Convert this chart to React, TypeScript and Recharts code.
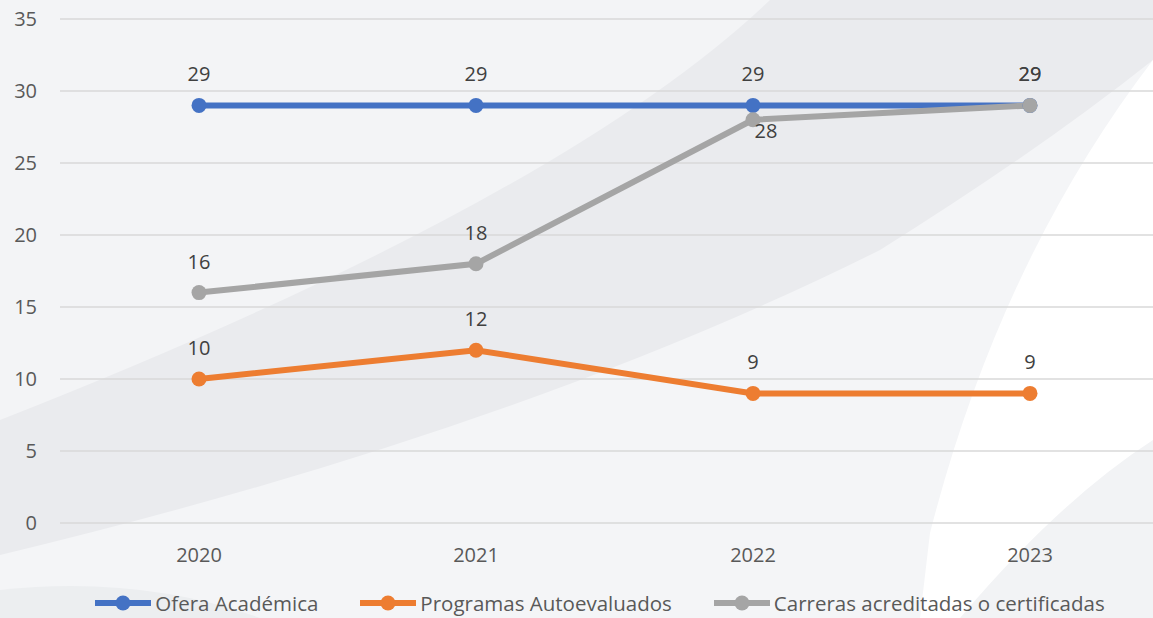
import React from 'react';
import { LineChart, Line, XAxis, YAxis, CartesianGrid, Legend, LabelList } from 'recharts';

const years = ['2020', '2021', '2022', '2023'];
const oferta = [29, 29, 29, 29];
const programas = [10, 12, 9, 9];
const carreras = [16, 18, 28, 29];
const yTicks = [0, 5, 10, 15, 20, 25, 30, 35];

const SERIES = [
  { key: 'oferta', name: 'Ofera Académica', color: '#4472C4' },
  { key: 'programas', name: 'Programas Autoevaluados', color: '#ED7D31' },
  { key: 'carreras', name: 'Carreras acreditadas o certificadas', color: '#A5A5A5' },
];

const data = years.map((year, i) => ({
  year,
  oferta: oferta[i],
  programas: programas[i],
  carreras: carreras[i],
}));

const FONT = '"Open Sans", sans-serif';
const TEXT = '#595959';

// label above the point; the gray 2022 one sits below-right like in the original
const makeLabel = (belowIndex?: number) => (props: any) => {
  const { x, y, value, index } = props;
  const below = index === belowIndex;
  return (
    <text
      x={below ? x + 13 : x}
      y={below ? y + 18 : y - 24}
      textAnchor="middle"
      fill="#404040"
      fontSize={20}
      fontFamily={FONT}
    >
      {value}
    </text>
  );
};

function LegendContent({ payload }: any) {
  const items = SERIES.map((s) => (payload || []).find((p: any) => p.value === s.name)).filter(Boolean);
  return (
    <div style={{ display: 'flex', justifyContent: 'center', gap: 42, height: 36, alignItems: 'center', paddingLeft: 31 }}>
      {items.map((p: any) => (
        <div key={p.value} style={{ display: 'flex', alignItems: 'center' }}>
          <svg width={56} height={16} style={{ marginRight: 4 }}>
            <line x1={0} y1={8} x2={56} y2={8} stroke={p.color} strokeWidth={6} />
            <circle cx={28} cy={8} r={7.5} fill={p.color} />
          </svg>
          <span style={{ fontFamily: FONT, fontSize: 20.5, color: TEXT, whiteSpace: 'nowrap' }}>{p.value}</span>
        </div>
      ))}
    </div>
  );
}

function Background() {
  return (
    <svg width={1153} height={618} style={{ position: 'absolute', left: 0, top: 0 }}>
      <rect x={0} y={0} width={1153} height={618} fill="#eaebee" />
      <path d="M0,0 L770,0 Q560,200 0,420 Z" fill="#f3f4f6" />
      <path d="M0,555 Q520,430 880,250 Q1040,150 1153,60 L1153,618 L0,618 Z" fill="#f4f5f7" />
      <path d="M1153,60 Q1000,260 930,533 L920,618 L1153,618 Z" fill="#ffffff" />
      <path d="M960,618 Q1060,500 1153,440 L1153,618 Z" fill="#f2f3f5" />
      <path d="M0,590 Q140,575 260,618 L0,618 Z" fill="#eceef0" />
    </svg>
  );
}

export default function App() {
  return (
    <div style={{ position: 'fixed', left: 0, top: 0, width: 1153, height: 618, overflow: 'hidden' }}>
      <Background />
      <div style={{ position: 'absolute', left: 0, top: 0 }}>
        <LineChart width={1175} height={640} data={data} margin={{ top: 19, right: 6, left: 0, bottom: 19 }}>
          <CartesianGrid vertical={false} stroke="#d9d9d9" strokeWidth={1.5} />
          <XAxis
            dataKey="year"
            padding={{ left: 139, right: 139 }}
            axisLine={false}
            tickLine={false}
            tickMargin={19}
            height={62}
            tick={{ fill: TEXT, fontSize: 20, fontFamily: FONT }}
          />
          <YAxis
            domain={[0, 35]}
            ticks={yTicks}
            width={60}
            axisLine={false}
            tickLine={false}
            tickMargin={17}
            tick={{ fill: TEXT, fontSize: 20, fontFamily: FONT }}
          />
          <Legend verticalAlign="bottom" height={36} content={<LegendContent />} />
          {SERIES.map((s) => (
            <Line
              key={s.key}
              dataKey={s.key}
              name={s.name}
              stroke={s.color}
              strokeWidth={6}
              dot={{ r: 7.5, fill: s.color, stroke: s.color, strokeWidth: 0 }}
              activeDot={false}
              isAnimationActive={false}
            >
              <LabelList dataKey={s.key} content={makeLabel(s.key === 'carreras' ? 2 : undefined)} />
            </Line>
          ))}
        </LineChart>
      </div>
    </div>
  );
}
